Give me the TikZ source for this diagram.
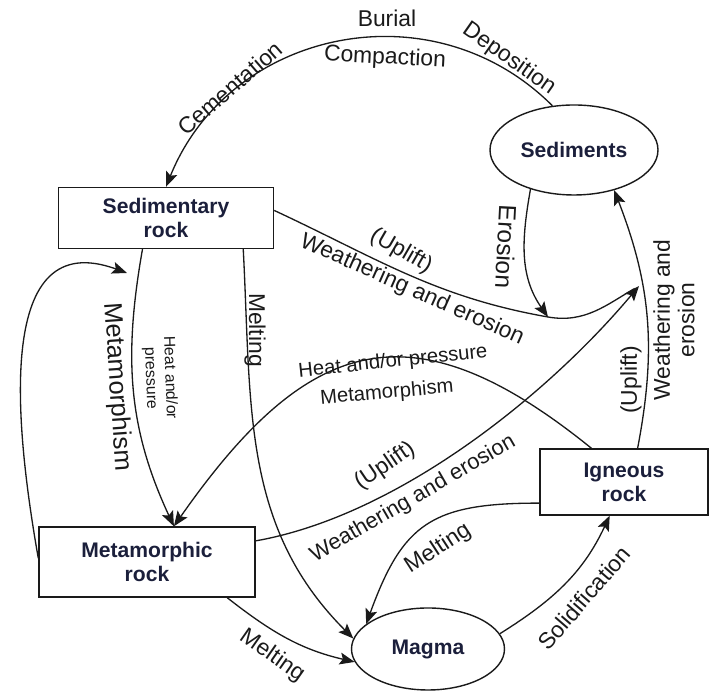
\documentclass[tikz,border=0pt]{standalone}
\usepackage{fontspec}
\setmainfont{Liberation Sans}
\usepackage{tikz}
\usepackage{xcolor}
\usetikzlibrary{arrows.meta,positioning,shapes.geometric}
\definecolor{Ink}{HTML}{1B1F3B}
\definecolor{Wire}{HTML}{1A1A1A}

\begin{document}
\begin{tikzpicture}[
  box/.style={draw=Wire,line width=0.8pt,fill=white,align=center,inner sep=0pt,font=\fontsize{12}{13.6}\selectfont\bfseries,text=Ink},
  blob/.style={ellipse,draw=Wire,line width=0.8pt,fill=white,inner sep=0pt,font=\fontsize{12}{13.6}\selectfont\bfseries,text=Ink},
  arrow/.style={-{Stealth[length=3mm,width=2.4mm,inset=0.6mm]},line width=0.75pt,draw=Wire},
  wire/.style={line width=0.75pt,draw=Wire},
  lbl/.style={inner sep=0pt,font=\fontsize{13}{14}\selectfont,text=Wire,align=center}
]
\useasboundingbox (0,0) rectangle (14.22,13.86);
% rocks and loose material
\node[box,minimum width=4.30cm,minimum height=1.22cm] (sedrock) at (3.32,9.50) {Sedimentary\\rock};
\node[box,minimum width=4.32cm,minimum height=1.40cm] (meta) at (2.94,2.62) {Metamorphic\\rock};
\node[box,minimum width=3.36cm,minimum height=1.32cm] (ign) at (12.48,4.22) {Igneous\\rock};
\node[blob,minimum width=3.36cm,minimum height=1.80cm] (sed) at (11.48,10.86) {Sediments};
\node[blob,minimum width=3.06cm,minimum height=1.64cm] (magma) at (8.56,0.88) {Magma};
\coordinate (join) at (10.96,7.52);
\coordinate (merge) at (12.78,8.14);
\coordinate (back) at (2.54,8.40);
% connectors
\draw[arrow] (sed.116) to[out=135,in=68,looseness=1.1] (sedrock.north);
\draw[wire] (sedrock.4) to[out=-25,in=170] (join);
\draw[wire,shorten >=1mm] (join) to[out=-10,in=210] (merge);
\draw[arrow] (sed.222) to[out=-100,in=125] (join);
\draw[arrow] (ign.68) to[bend right=16] (sed.-45);
\draw[arrow] (sedrock.-127) to[out=-100,in=115] (meta.53);
\draw[arrow] (sedrock.-22) to[out=-87,in=135] (magma.172);
\draw[arrow] (meta.178) to[out=100,in=160,looseness=1.2] (back);
\draw[arrow] (ign.134) to[out=141,in=55,looseness=1.4] (meta.53);
\draw[arrow] (meta.11) to[out=10,in=230,looseness=0.8] (merge);
\draw[arrow] (ign.194) to[out=180,in=70,looseness=1.3] (magma.158);
\draw[arrow] (magma.12) to[out=32,in=245] (ign.-113);
\draw[arrow] (meta.-24) to[out=-38,in=167] (magma.190);
% labels
\node[lbl] (burial) at (7.74,13.50) {Burial};
\node[lbl,rotate=-3] (compact) at (7.70,12.70) {Compaction};
\node[lbl,rotate=41] (cement) at (4.60,12.10) {Cementation};
\node[lbl,rotate=-35] (depos) at (10.18,12.68) {Deposition};
\node[lbl,rotate=-93,font=\fontsize{14}{15}\selectfont] (erosion) at (10.12,8.92) {Erosion};
\node[lbl,rotate=-30] (upliftA) at (8.02,8.84) {(Uplift)};
\node[lbl,rotate=-24] (weathA) at (8.24,8.06) {Weathering and erosion};
\node[lbl,rotate=90] (upliftB) at (12.62,6.26) {(Uplift)};
\node[lbl,rotate=90] (weathB) at (13.48,7.46) {Weathering and\\erosion};
\node[lbl,rotate=-86,font=\fontsize{14.5}{15}\selectfont] (metaA) at (2.34,6.12) {Metamorphism};
\node[lbl,rotate=-88,font=\fontsize{9}{11}\selectfont] (heatA) at (3.20,6.30) {Heat and/or\\pressure};
\node[lbl,rotate=-90] (meltA) at (5.10,7.26) {Melting};
\node[lbl,rotate=6,font=\fontsize{11.5}{12}\selectfont] (heatB) at (7.86,6.62) {Heat and/or pressure};
\node[lbl,rotate=5,font=\fontsize{11.5}{12}\selectfont] (metaB) at (7.74,6.00) {Metamorphism};
\node[lbl,rotate=34] (upliftC) at (7.70,4.54) {(Uplift)};
\node[lbl,rotate=30,font=\fontsize{12.5}{13}\selectfont] (weathC) at (8.26,3.88) {Weathering and erosion};
\node[lbl,rotate=33] (meltB) at (8.76,2.88) {Melting};
\node[lbl,rotate=49] (solid) at (11.68,1.90) {Solidification};
\node[lbl,rotate=-35] (meltC) at (5.44,0.74) {Melting};
\end{tikzpicture}
\end{document}
